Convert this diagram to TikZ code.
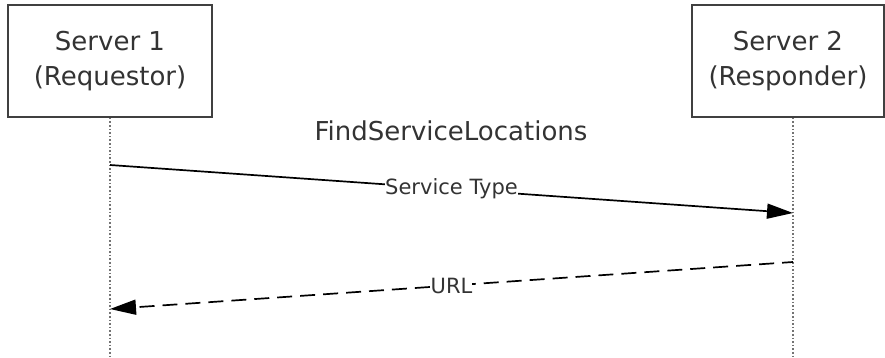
\documentclass[tikz,border=0pt]{standalone}
\usepackage{fontspec}
\setmainfont{DejaVu Sans}
\usetikzlibrary{positioning,calc,arrows.meta}

\tikzset{
  server/.style={draw=black!75, line width=1.8pt, fill=white, text=black!80,
    align=center, font=\fontsize{26}{35}\selectfont, minimum height=112pt},
  lifeline/.style={draw=black!55, line width=1.6pt, dotted},
  msg/.style={line width=1.7pt, -{Triangle[length=26pt,width=15pt]}},
  msglabel/.style={fill=white, inner xsep=0pt, inner ysep=1pt, text=black!80,
    font=\fontsize{21}{24}\selectfont},
}

\begin{document}
\begin{tikzpicture}[x=1pt, y=-1pt]
        \useasboundingbox (0,0) rectangle (885,358);
        % the two servers
        \node[server, minimum width=204pt] (s1) at (110,61) {Server 1\\(Requestor)};
        \node[server, minimum width=192pt] (s2) at (788,61) {Server 2\\(Responder)};
        \node[text=black!80, font=\fontsize{26}{30}\selectfont] (title) at (451,131) {FindServiceLocations};
        % lifelines
        \coordinate (l1) at (110,358);
        \coordinate (l2) at (793,358);
        \draw[lifeline] (s1.south) -- (l1);
        \draw[lifeline] ($(s2.south)+(5,0)$) -- (l2);
        % messages
        \coordinate (a1) at (110,165);
        \coordinate (b1) at (793,213);
        \coordinate (a2) at (793,262);
        \coordinate (b2) at (110,309);
        \draw[msg] (a1) -- node[msglabel] (m1) {Service Type} (b1);
        \draw[msg, dashed, dash pattern=on 15pt off 8pt, dash phase=4pt] (a2) -- node[msglabel] (m2) {URL} (b2);
    \end{tikzpicture}
\end{document}
